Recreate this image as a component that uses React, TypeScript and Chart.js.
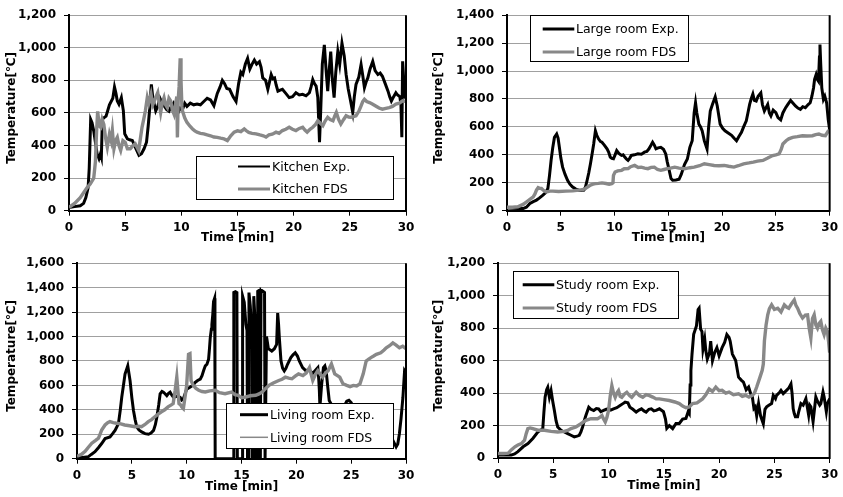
import React, { useEffect, useRef } from "react";
import { Chart, registerables } from "chart.js";

Chart.register(...registerables);

type Pt = [number, number];

// ---------------- DATA ----------------
const timeMin = 0;
const timeMax = 30;
const timeStep = 5;
const tempStep = 200;

const kitchenExp: Pt[] = [
  [0, 20], [0.5, 25], [1.0, 30], [1.3, 45], [1.5, 80], [1.7, 140], [1.8, 260], [1.93, 560], [2.05, 540], [2.2, 490], [2.35, 420],
  [2.5, 350], [2.67, 320], [2.8, 350], [2.88, 330], [2.97, 560], [3.1, 570], [3.3, 580], [3.6, 650], [3.9, 690], [4.05, 759],
  [4.18, 720], [4.3, 674], [4.45, 654], [4.66, 694], [4.84, 613], [4.96, 472], [5.2, 441], [5.4, 435], [5.64, 431], [5.9, 390],
  [6.23, 340], [6.45, 350], [6.68, 380], [6.9, 420], [7.05, 520], [7.2, 640], [7.33, 775], [7.45, 700], [7.6, 650], [7.72, 613],
  [7.9, 640], [8.1, 690], [8.3, 660], [8.5, 640], [8.7, 620], [8.9, 610], [9.1, 640], [9.3, 660], [9.5, 620], [9.7, 600],
  [9.9, 630], [10.1, 620], [10.3, 660], [10.5, 640], [10.8, 660], [11.1, 650], [11.4, 655], [11.7, 650], [12.0, 670],
  [12.3, 690], [12.6, 680], [12.9, 645], [13.2, 720], [13.45, 760], [13.65, 800], [13.85, 780], [14.05, 750], [14.3, 745],
  [14.6, 700], [14.87, 670], [15.1, 780], [15.3, 850], [15.47, 836], [15.7, 900], [15.9, 935], [16.1, 870], [16.3, 900],
  [16.5, 925], [16.7, 900], [16.95, 915], [17.1, 880], [17.25, 815], [17.5, 800], [17.7, 745], [17.85, 790], [18.0, 836],
  [18.15, 810], [18.3, 815], [18.45, 770], [18.6, 734], [18.8, 740], [19.0, 745], [19.3, 720], [19.6, 694], [19.9, 700],
  [20.2, 724], [20.5, 710], [20.8, 714], [21.1, 705], [21.4, 724], [21.55, 760], [21.7, 805], [21.85, 780], [22.0, 765],
  [22.15, 694], [22.3, 420], [22.4, 600], [22.55, 900], [22.73, 1018], [22.9, 850], [23.03, 734], [23.15, 850], [23.3, 977],
  [23.45, 800], [23.6, 694], [23.75, 850], [23.93, 977], [24.1, 900], [24.3, 1028], [24.5, 950], [24.67, 836], [24.85, 750],
  [25.05, 680], [25.26, 603], [25.4, 700], [25.55, 775], [25.8, 820], [26.0, 897], [26.15, 830], [26.3, 755], [26.45, 790],
  [26.6, 815], [26.8, 870], [27.04, 917], [27.25, 860], [27.5, 836], [27.7, 845], [27.9, 825], [28.15, 780], [28.4, 734],
  [28.55, 700], [28.7, 673], [28.9, 700], [29.1, 724], [29.25, 710], [29.45, 700], [29.55, 650], [29.63, 451], [29.7, 917],
  [29.8, 800], [29.9, 700], [30, 690],
];

const kitchenFds: Pt[] = [
  [0, 20], [0.5, 45], [1.0, 80], [1.3, 110], [1.6, 140], [1.9, 165], [2.2, 200], [2.35, 300], [2.45, 480], [2.55, 610],
  [2.7, 520], [2.82, 512], [2.95, 560], [3.1, 530], [3.25, 450], [3.41, 390], [3.6, 470], [3.75, 430], [3.86, 492], [4.0, 380],
  [4.15, 430], [4.3, 450], [4.45, 400], [4.6, 370], [4.8, 430], [5.0, 420], [5.2, 380], [5.45, 380], [5.7, 400], [5.9, 410],
  [6.05, 390], [6.2, 370], [6.35, 440], [6.5, 512], [6.65, 560], [6.8, 613], [6.97, 694], [7.1, 660], [7.3, 715], [7.45, 650],
  [7.6, 674], [7.75, 700], [7.9, 725], [8.05, 650], [8.16, 603], [8.3, 660], [8.46, 694], [8.6, 650], [8.75, 633], [8.9, 690],
  [9.05, 674], [9.2, 620], [9.35, 593], [9.5, 660], [9.6, 700], [9.65, 450], [9.72, 680], [9.8, 760], [9.9, 936], [9.97, 800],
  [10.05, 640], [10.1, 613], [10.3, 570], [10.5, 542], [10.75, 520], [11.0, 502], [11.2, 490], [11.4, 482], [11.7, 475],
  [12.0, 472], [12.3, 465], [12.6, 460], [12.9, 452], [13.2, 450], [13.5, 445], [13.8, 441], [14.1, 431], [14.4, 460],
  [14.7, 482], [15.0, 490], [15.3, 485], [15.6, 502], [15.76, 492], [16.0, 480], [16.3, 475], [16.65, 472], [17.0, 465],
  [17.3, 460], [17.54, 452], [17.8, 465], [18.1, 470], [18.43, 482], [18.7, 475], [19.0, 492], [19.3, 500], [19.6, 512],
  [19.9, 500], [20.2, 492], [20.5, 505], [20.8, 512], [21.0, 495], [21.2, 482], [21.45, 500], [21.7, 512], [21.95, 530],
  [22.15, 552], [22.4, 535], [22.6, 522], [22.8, 550], [23.03, 573], [23.25, 560], [23.5, 552], [23.65, 580], [23.8, 603],
  [24.0, 560], [24.2, 532], [24.45, 560], [24.67, 583], [24.9, 575], [25.1, 573], [25.3, 578], [25.55, 583], [25.8, 610],
  [26.0, 643], [26.15, 670], [26.3, 684], [26.5, 670], [26.75, 664], [27.0, 655], [27.3, 643], [27.6, 630], [27.9, 623],
  [28.2, 628], [28.5, 633], [28.8, 640], [29.1, 654], [29.4, 660], [29.7, 674], [30, 670],
];

const largeExp: Pt[] = [
  [0, 20], [0.5, 18], [1.0, 15], [1.5, 15], [1.8, 25], [2.13, 52], [2.44, 65], [2.74, 76], [3.0, 90], [3.34, 111], [3.6, 130],
  [3.8, 159], [3.95, 250], [4.1, 360], [4.25, 450], [4.41, 525], [4.62, 549], [4.75, 520], [4.87, 454], [5.0, 380], [5.17, 312],
  [5.4, 260], [5.63, 218], [5.85, 190], [6.08, 171], [6.4, 155], [6.69, 147], [6.9, 145], [7.15, 147], [7.3, 170], [7.45, 218],
  [7.6, 270], [7.76, 336], [7.9, 400], [8.06, 478], [8.22, 572], [8.35, 540], [8.52, 513], [8.7, 495], [8.83, 490], [9.05, 470],
  [9.3, 443], [9.45, 420], [9.6, 384], [9.75, 375], [9.9, 372], [10.05, 400], [10.2, 431], [10.4, 410], [10.65, 396],
  [10.8, 400], [10.95, 384], [11.1, 370], [11.25, 360], [11.4, 375], [11.56, 396], [11.85, 400], [12.17, 407], [12.5, 405],
  [12.78, 419], [13.0, 425], [13.2, 443], [13.4, 470], [13.54, 490], [13.7, 470], [13.85, 443], [14.05, 450], [14.3, 454],
  [14.55, 440], [14.76, 407], [14.9, 350], [15.05, 300], [15.25, 230], [15.4, 218], [15.7, 220], [16.0, 225], [16.2, 260],
  [16.5, 330], [16.77, 370], [17.0, 454], [17.22, 501], [17.4, 700], [17.53, 773], [17.65, 700], [17.84, 620], [18.0, 600],
  [18.15, 572], [18.35, 500], [18.6, 442], [18.75, 600], [18.9, 714], [19.1, 760], [19.36, 815], [19.55, 750], [19.82, 620],
  [20.05, 590], [20.27, 572], [20.6, 555], [20.88, 540], [21.1, 520], [21.34, 501], [21.55, 530], [21.8, 561], [22.0, 600],
  [22.25, 643], [22.4, 700], [22.56, 761], [22.7, 800], [22.86, 835], [23.0, 790], [23.17, 785], [23.35, 820], [23.6, 844],
  [23.75, 760], [23.93, 714], [24.1, 740], [24.24, 761], [24.4, 700], [24.54, 679], [24.75, 720], [25.0, 702], [25.2, 667],
  [25.45, 650], [25.65, 700], [25.91, 738], [26.1, 760], [26.37, 790], [26.6, 770], [26.82, 750], [27.05, 735], [27.28, 726],
  [27.5, 745], [27.74, 738], [28.0, 760], [28.19, 773], [28.35, 820], [28.5, 879], [28.6, 940], [28.74, 974], [28.85, 940],
  [28.96, 927], [29.05, 1100], [29.1, 1190], [29.17, 1050], [29.27, 879], [29.42, 797], [29.55, 820], [29.72, 773],
  [29.87, 650], [30, 580],
];

const largeFds: Pt[] = [
  [0, 25], [0.5, 25], [1.0, 28], [1.5, 45], [1.83, 64], [2.1, 80], [2.44, 99], [2.6, 120], [2.74, 147], [2.9, 165], [3.05, 160],
  [3.2, 159], [3.4, 145], [3.65, 135], [4.0, 140], [4.26, 140], [4.8, 138], [5.48, 140], [6.1, 142], [6.7, 147], [7.0, 150],
  [7.3, 159], [7.5, 170], [7.76, 183], [8.0, 190], [8.22, 194], [8.5, 196], [8.83, 199], [9.2, 195], [9.5, 190], [9.74, 194],
  [9.85, 200], [9.9, 253], [10.05, 277], [10.3, 285], [10.65, 289], [10.9, 300], [11.26, 301], [11.5, 315], [11.87, 324],
  [12.2, 310], [12.48, 312], [12.8, 305], [13.1, 301], [13.4, 310], [13.7, 312], [14.0, 295], [14.3, 289], [14.6, 295],
  [14.9, 301], [15.2, 305], [15.6, 312], [16.0, 305], [16.5, 300], [17.0, 308], [17.4, 312], [17.9, 322], [18.35, 336],
  [18.8, 330], [19.26, 324], [19.7, 322], [20.2, 324], [20.6, 318], [21.1, 312], [21.5, 322], [22.0, 336], [22.5, 342],
  [22.9, 348], [23.3, 355], [23.8, 360], [24.2, 375], [24.7, 395], [25.0, 400], [25.3, 407], [25.5, 440], [25.65, 478],
  [25.95, 501], [26.2, 515], [26.56, 525], [27.0, 530], [27.47, 537], [27.9, 535], [28.4, 537], [28.7, 545], [29.0, 549],
  [29.3, 540], [29.6, 537], [29.87, 570], [30, 572],
];

const livingExp: Pt[] = [
  [0, 10], [0.5, 10], [1.04, 17], [1.3, 35], [1.64, 57], [1.95, 90], [2.25, 124], [2.56, 165], [3.01, 178], [3.25, 205],
  [3.47, 232], [3.78, 287], [3.95, 400], [4.08, 503], [4.25, 610], [4.38, 692], [4.63, 760], [4.84, 638], [5.0, 500],
  [5.15, 395], [5.3, 320], [5.45, 260], [5.65, 235], [5.9, 219], [6.2, 205], [6.52, 200], [6.75, 210], [6.98, 232],
  [7.15, 280], [7.28, 340], [7.45, 440], [7.58, 530], [7.75, 550], [7.88, 544], [8.05, 530], [8.19, 516], [8.35, 535],
  [8.49, 544], [8.65, 520], [8.8, 503], [9.1, 510], [9.4, 503], [9.55, 480], [9.7, 490], [9.85, 530], [10.0, 570],
  [10.3, 584], [10.55, 600], [10.78, 624], [11.0, 640], [11.24, 651], [11.4, 680], [11.54, 719], [11.7, 760], [11.85, 773],
  [12.0, 814], [12.08, 900], [12.15, 989], [12.25, 1060], [12.3, 1097], [12.38, 1180], [12.45, 1286], [12.55, 1313],
  [12.58, 700], [12.6, 0], [14.25, 0], [14.3, 1360], [14.45, 1367], [14.58, 1360], [14.62, 0], [15.05, 0], [15.1, 1330],
  [15.25, 1280], [15.4, 1100], [15.5, 1050], [15.55, 0], [15.62, 0], [15.68, 1360], [15.8, 1250], [15.95, 1020], [16.0, 0],
  [16.07, 0], [16.12, 1330], [16.25, 1100], [16.35, 0], [16.42, 0], [16.48, 1370], [16.65, 1380], [16.72, 0], [16.78, 1380],
  [16.95, 1370], [17.1, 1360], [17.15, 0], [17.22, 0], [17.28, 1000], [17.45, 900], [17.76, 881], [18.0, 900], [18.2, 935],
  [18.3, 1191], [18.38, 1100], [18.45, 989], [18.6, 800], [18.75, 740], [18.9, 719], [19.05, 740], [19.2, 773], [19.5, 827],
  [19.7, 850], [19.9, 867], [20.1, 840], [20.27, 800], [20.57, 746], [20.88, 719], [21.1, 730], [21.5, 700], [21.96, 746],
  [22.05, 640], [22.1, 557], [22.15, 422], [22.3, 600], [22.47, 746], [22.6, 760], [22.72, 719], [22.85, 600], [23.0, 476],
  [23.33, 422], [23.6, 420], [24.0, 390], [24.3, 420], [24.6, 470], [24.8, 478], [25.0, 460], [25.3, 400], [26.0, 320],
  [26.7, 270], [27.4, 230], [28.0, 200], [28.5, 170], [28.8, 151], [29.1, 97], [29.25, 120], [29.4, 205], [29.55, 330],
  [29.72, 503], [29.87, 719], [30, 700],
];

const livingFds: Pt[] = [
  [0, 20], [0.4, 35], [0.74, 60], [1.0, 90], [1.35, 127], [1.7, 150], [1.96, 168], [2.1, 200], [2.25, 235], [2.56, 276],
  [2.8, 295], [3.0, 303], [3.3, 295], [3.6, 290], [4.0, 285], [4.35, 276], [4.8, 270], [5.27, 262], [5.6, 265], [5.88, 262],
  [6.2, 280], [6.5, 303], [6.8, 320], [7.1, 343], [7.4, 365], [7.7, 384], [8.0, 400], [8.3, 424], [8.6, 440], [8.77, 451],
  [8.95, 560], [9.1, 668], [9.2, 560], [9.3, 451], [9.45, 440], [9.55, 424], [9.7, 410], [9.85, 505], [10.0, 600],
  [10.17, 854], [10.3, 860], [10.4, 640], [10.6, 600], [10.85, 575], [11.1, 560], [11.4, 550], [11.7, 546], [12.1, 555],
  [12.6, 560], [13.0, 540], [13.5, 532], [14.1, 546], [14.4, 525], [14.7, 519], [15.0, 500], [15.4, 505], [15.8, 515],
  [16.3, 519], [16.6, 530], [16.9, 546], [17.2, 575], [17.5, 600], [17.9, 620], [18.4, 640], [18.7, 650], [19.0, 667],
  [19.3, 660], [19.6, 654], [19.9, 675], [20.2, 694], [20.6, 681], [20.9, 700], [21.2, 746], [21.35, 690], [21.5, 640],
  [21.75, 690], [21.96, 721], [22.2, 690], [22.4, 667], [22.65, 700], [22.9, 721], [23.2, 775], [23.5, 694], [23.96, 667],
  [24.25, 613], [24.6, 600], [24.9, 590], [25.2, 600], [25.5, 595], [25.8, 613], [26.1, 694], [26.37, 800], [26.6, 815],
  [26.8, 827], [27.05, 840], [27.3, 854], [27.7, 867], [28.0, 890], [28.2, 908], [28.5, 925], [28.8, 948], [29.1, 930],
  [29.4, 908], [29.7, 921], [30, 900],
];

const studyExp: Pt[] = [
  [0, 18], [0.6, 18], [1.2, 18], [1.5, 25], [1.8, 39], [2.27, 69], [2.71, 89], [3.15, 120], [3.6, 160], [4.05, 181],
  [4.15, 280], [4.26, 374], [4.4, 420], [4.5, 435], [4.65, 374], [4.8, 415], [4.95, 350], [5.1, 293], [5.25, 230],
  [5.4, 191], [5.7, 171], [6.0, 160], [6.3, 150], [6.6, 140], [6.9, 130], [7.15, 135], [7.35, 140], [7.5, 160], [7.65, 191],
  [7.8, 230], [7.95, 262], [8.21, 313], [8.4, 300], [8.66, 293], [8.9, 305], [9.1, 303], [9.3, 285], [9.55, 293], [9.8, 300],
  [10.0, 303], [10.2, 295], [10.45, 303], [10.75, 310], [11.04, 323], [11.3, 335], [11.5, 344], [11.75, 340], [11.93, 313],
  [12.2, 300], [12.5, 283], [12.75, 295], [12.98, 303], [13.2, 290], [13.4, 283], [13.65, 300], [13.87, 303], [14.1, 290],
  [14.3, 293], [14.6, 303], [14.97, 285], [15.15, 240], [15.27, 183], [15.5, 200], [15.8, 181], [16.1, 213], [16.4, 213],
  [16.7, 240], [17.0, 244], [17.2, 285], [17.3, 274], [17.38, 450], [17.45, 539], [17.55, 640], [17.7, 762], [17.95, 814],
  [18.1, 915], [18.19, 923], [18.33, 793], [18.45, 780], [18.54, 671], [18.7, 732], [18.8, 660], [18.93, 610], [19.14, 651],
  [19.24, 720], [19.4, 600], [19.6, 650], [19.8, 680], [20.0, 630], [20.27, 680], [20.5, 712], [20.7, 760], [20.9, 742],
  [21.0, 720], [21.2, 640], [21.5, 600], [21.76, 498], [22.0, 480], [22.2, 468], [22.45, 420], [22.67, 437], [22.86, 396],
  [23.0, 380], [23.15, 305], [23.27, 315], [23.4, 260], [23.57, 335], [23.75, 260], [24.0, 211], [24.15, 300], [24.3, 315],
  [24.5, 325], [24.75, 335], [24.9, 386], [25.1, 366], [25.2, 386], [25.5, 407], [25.6, 417], [25.8, 397], [26.1, 417],
  [26.3, 430], [26.5, 456], [26.6, 400], [26.7, 305], [26.8, 274], [26.9, 254], [27.1, 254], [27.2, 285], [27.4, 335],
  [27.6, 325], [27.85, 366], [28.1, 264], [28.2, 325], [28.3, 315], [28.5, 224], [28.75, 376], [28.9, 350], [29.1, 325],
  [29.2, 335], [29.4, 407], [29.5, 376], [29.7, 285], [29.8, 335], [30, 366],
];

const studyFds: Pt[] = [
  [0, 28], [0.5, 28], [0.93, 30], [1.2, 50], [1.53, 69], [1.8, 80], [2.12, 89], [2.4, 110], [2.55, 150], [2.7, 181],
  [2.9, 185], [3.15, 181], [3.6, 171], [4.2, 171], [4.8, 164], [5.4, 160], [6.0, 164], [6.3, 170], [6.6, 181], [7.05, 191],
  [7.5, 211], [7.95, 232], [8.4, 242], [9.0, 242], [9.2, 250], [9.4, 262], [9.55, 240], [9.7, 222], [9.85, 250], [10.0, 293],
  [10.15, 380], [10.3, 445], [10.45, 400], [10.6, 374], [10.75, 400], [10.9, 415], [11.05, 380], [11.2, 374], [11.45, 395],
  [11.65, 405], [11.9, 385], [12.1, 374], [12.3, 390], [12.5, 405], [12.8, 385], [13.1, 374], [13.4, 390], [13.7, 384],
  [14.0, 375], [14.3, 364], [14.6, 364], [15.0, 360], [15.5, 354], [16.0, 345], [16.4, 335], [16.7, 320], [17.0, 310],
  [17.3, 315], [17.6, 335], [18.0, 340], [18.5, 364], [18.8, 390], [19.1, 425], [19.4, 410], [19.7, 437], [20.0, 415],
  [20.27, 417], [20.6, 400], [20.9, 406], [21.3, 390], [21.76, 396], [22.1, 380], [22.4, 386], [22.7, 375], [23.0, 386],
  [23.2, 400], [23.4, 437], [23.7, 498], [23.9, 540], [24.0, 579], [24.1, 722], [24.25, 820], [24.4, 882], [24.55, 920],
  [24.75, 943], [25.0, 915], [25.3, 923], [25.6, 900], [25.9, 943], [26.1, 930], [26.3, 923], [26.55, 950], [26.8, 973],
  [26.95, 940], [27.1, 923], [27.3, 890], [27.55, 862], [27.8, 880], [28.0, 882], [28.15, 800], [28.3, 740], [28.45, 860],
  [28.6, 882], [28.75, 820], [28.9, 800], [29.05, 830], [29.2, 842], [29.35, 790], [29.5, 760], [29.65, 800], [29.8, 780],
  [29.9, 720], [30, 650],
];

const yMaxKitchen = 1200;
const yMaxLarge = 1400;
const yMaxLiving = 1600;
const yMaxStudy = 1200;

const xTitle = "Time [min]";
const yTitle = "Temperature[℃]";

// ---------------- STYLE / LAYOUT ----------------
const EXP_COLOR = "#000000";
const FDS_COLOR = "#888888";
const GRID_COLOR = "#a0a0a0";
const TICK_FONT = { family: "'DejaVu Sans', sans-serif", size: 12, weight: "bold" as const };
const Y_AXIS_W = 50;
const X_AXIS_H = 26;

interface LegendLayout {
  box: [number, number, number, number];
  rows: [number, number];
  line: [number, number];
  textX: number;
  lineW: [number, number];
}

interface PanelCfg {
  left: number;
  top: number;
  width: number;
  height: number;
  area: { left: number; right: number; top: number; bottom: number };
  exp: Pt[];
  fds: Pt[];
  expLabel: string;
  fdsLabel: string;
  yMax: number;
  legend: LegendLayout;
  yTitleX: number;
  xTitleY: number;
}

const panels: PanelCfg[] = [
  {
    left: 0, top: 0, width: 421, height: 248,
    area: { left: 69, right: 406, top: 13.3, bottom: 210.7 },
    exp: kitchenExp, fds: kitchenFds, expLabel: "Kitchen Exp.", fdsLabel: "Kitchen FDS", yMax: yMaxKitchen,
    legend: { box: [196, 156, 197, 43], rows: [166.5, 189], line: [238, 270], textX: 272, lineW: [2, 3] },
    yTitleX: 12, xTitleY: 238,
  },
  {
    left: 421, top: 0, width: 422, height: 248,
    area: { left: 86, right: 414, top: 13.3, bottom: 210.7 },
    exp: largeExp, fds: largeFds, expLabel: "Large room Exp.", fdsLabel: "Large room FDS", yMax: yMaxLarge,
    legend: { box: [109, 15, 158, 46], rows: [29, 52], line: [121.7, 153.3], textX: 155, lineW: [3, 3] },
    yTitleX: 18, xTitleY: 238,
  },
  {
    left: 0, top: 248, width: 421, height: 249,
    area: { left: 77, right: 406, top: 13.3, bottom: 210.7 },
    exp: livingExp, fds: livingFds, expLabel: "Living room Exp.", fdsLabel: "Living room FDS", yMax: yMaxLiving,
    legend: { box: [226, 155, 167, 45], rows: [166.7, 189.3], line: [240, 268], textX: 270, lineW: [3, 1.5] },
    yTitleX: 12, xTitleY: 239,
  },
  {
    left: 421, top: 248, width: 422, height: 249,
    area: { left: 77, right: 413, top: 13.3, bottom: 210 },
    exp: studyExp, fds: studyFds, expLabel: "Study room Exp.", fdsLabel: "Study room FDS", yMax: yMaxStudy,
    legend: { box: [91.7, 22.7, 165, 46.6], rows: [36.7, 60], line: [101.7, 133.3], textX: 135, lineW: [3, 3] },
    yTitleX: 18, xTitleY: 238,
  },
];

function toXY(pts: Pt[]) {
  return pts.map(([x, y]) => ({ x, y }));
}

function Panel({ cfg }: { cfg: PanelCfg }) {
  const ref = useRef<HTMLCanvasElement | null>(null);

  useEffect(() => {
    const canvas = ref.current;
    if (!canvas) return;
    const a = cfg.area;

    const decor = {
      id: "decor",
      afterDraw(chart: any) {
        const ctx: CanvasRenderingContext2D = chart.ctx;
        const ca = chart.chartArea;
        ctx.save();
        ctx.strokeStyle = "#000";
        ctx.lineWidth = 2;
        ctx.beginPath();
        ctx.moveTo(ca.right, ca.top);
        ctx.lineTo(ca.right, ca.bottom + 1);
        ctx.stroke();

        const L = cfg.legend;
        ctx.fillStyle = "#fff";
        ctx.fillRect(L.box[0], L.box[1], L.box[2], L.box[3]);
        ctx.strokeStyle = "#000";
        ctx.lineWidth = 1;
        ctx.strokeRect(Math.round(L.box[0]) + 0.5, Math.round(L.box[1]) + 0.5, Math.round(L.box[2]), Math.round(L.box[3]));
        const labels = [cfg.expLabel, cfg.fdsLabel];
        const colors = [EXP_COLOR, FDS_COLOR];
        ctx.font = "12.5px 'DejaVu Sans', sans-serif";
        ctx.textAlign = "left";
        ctx.textBaseline = "middle";
        for (let i = 0; i < 2; i++) {
          ctx.strokeStyle = colors[i];
          ctx.lineWidth = L.lineW[i];
          ctx.beginPath();
          ctx.moveTo(L.line[0], L.rows[i]);
          ctx.lineTo(L.line[1], L.rows[i]);
          ctx.stroke();
          ctx.fillStyle = "#000";
          ctx.fillText(labels[i], L.textX, L.rows[i] + 1);
        }

        ctx.font = "bold 12px 'DejaVu Sans', sans-serif";
        ctx.fillStyle = "#000";
        ctx.textAlign = "center";
        ctx.textBaseline = "middle";
        ctx.fillText(xTitle, (ca.left + ca.right) / 2, cfg.xTitleY);
        ctx.translate(cfg.yTitleX, (ca.top + ca.bottom) / 2 - 5);
        ctx.rotate(-Math.PI / 2);
        ctx.fillText(yTitle, 0, 0);
        ctx.restore();
      },
    };

    const chart = new Chart(canvas, {
      type: "line",
      data: {
        datasets: [
          {
            label: cfg.fdsLabel,
            data: toXY(cfg.fds),
            borderColor: FDS_COLOR,
            backgroundColor: FDS_COLOR,
            borderWidth: 3.4,
            pointRadius: 0,
            tension: 0,
            fill: false,
          },
          {
            label: cfg.expLabel,
            data: toXY(cfg.exp),
            borderColor: EXP_COLOR,
            backgroundColor: EXP_COLOR,
            borderWidth: 3,
            pointRadius: 0,
            tension: 0,
            fill: false,
          },
        ],
      },
      options: {
        animation: false,
        responsive: false,
        maintainAspectRatio: false,
        layout: {
          padding: {
            left: a.left - Y_AXIS_W,
            right: cfg.width - a.right,
            top: a.top,
            bottom: cfg.height - a.bottom - X_AXIS_H,
          },
        },
        plugins: {
          legend: { display: false },
          tooltip: { enabled: false },
        },
        scales: {
          x: {
            type: "linear",
            min: timeMin,
            max: timeMax,
            ticks: {
              stepSize: timeStep,
              font: TICK_FONT,
              color: "#000",
              padding: 5,
              maxRotation: 0,
              autoSkip: false,
            },
            grid: { drawOnChartArea: false, color: "#000", tickLength: 5, lineWidth: 1 },
            border: { color: "#000", width: 2 },
            afterFit: (s: any) => {
              s.height = X_AXIS_H;
            },
          },
          y: {
            type: "linear",
            min: 0,
            max: cfg.yMax,
            ticks: {
              stepSize: tempStep,
              font: TICK_FONT,
              color: "#000",
              padding: 8,
              callback: (v: any) => Number(v).toLocaleString("en-US"),
            },
            grid: { color: GRID_COLOR, lineWidth: 1, tickColor: "#000", tickLength: 5 },
            border: { color: "#000", width: 2 },
            afterFit: (s: any) => {
              s.width = Y_AXIS_W;
            },
          },
        },
      },
      plugins: [decor],
    });
    return () => chart.destroy();
  }, [cfg]);

  return (
    <canvas
      ref={ref}
      width={cfg.width}
      height={cfg.height}
      style={{ position: "absolute", left: cfg.left, top: cfg.top, width: cfg.width, height: cfg.height }}
    />
  );
}

export default function App() {
  return (
    <div style={{ position: "absolute", left: 0, top: 0, width: 843, height: 497, background: "#fff", overflow: "hidden" }}>
      {panels.map((p, i) => (
        <Panel key={i} cfg={p} />
      ))}
    </div>
  );
}
